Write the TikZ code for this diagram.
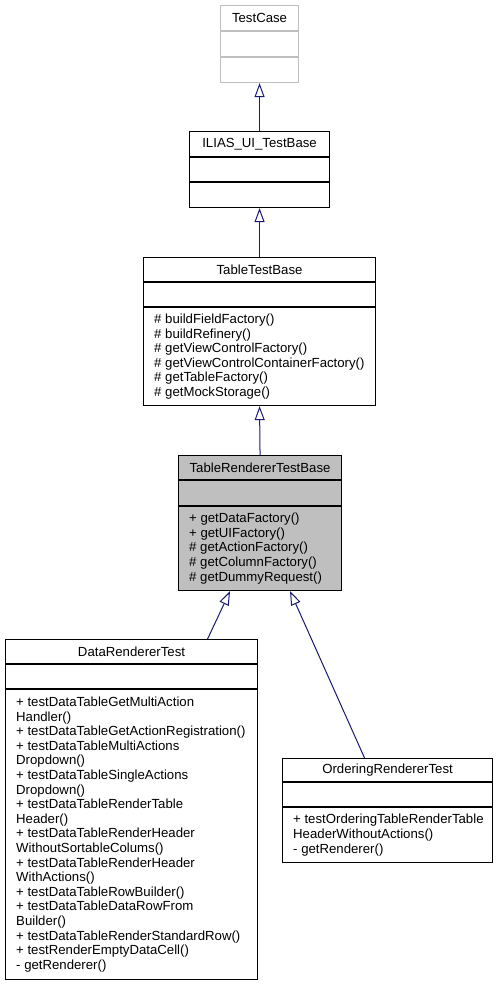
\documentclass[tikz,border=0pt]{standalone}
\usepackage{fontspec}
\setmainfont{Liberation Sans}
\usepackage{xcolor}
\usetikzlibrary{arrows.meta, positioning, calc}
\definecolor{EdgeBlue}{HTML}{191970}
\definecolor{GreyBox}{HTML}{BFBFBF}

\begin{document}
\begin{tikzpicture}[x=1pt, y=-1pt]
        \tikzset{
            classbox/.style={rectangle, draw=black, line width=1.1pt, fill=white, anchor=north west, inner sep=0pt},
            classname/.style={font=\fontsize{13.2}{14.6}\selectfont, inner sep=0pt},
            classline/.style={draw=black, line width=1.1pt},
            members/.style={font=\fontsize{13.2}{14.6}\selectfont, align=left, anchor=west, inner sep=0pt},
            inherit/.style={draw=EdgeBlue, line width=1pt, -{Triangle[open, length=14pt, width=10pt]}}
        }
        \useasboundingbox (0,0) rectangle (498,985);

        % TestCase
        \node[classbox, draw=GreyBox, minimum width=78pt, minimum height=77pt] (tc) at (220,5) {};
        \node[classname] (tcname) at ($(tc.north)+(0,13)$) {TestCase};
        \draw[classline, draw=GreyBox] ($(tc.north west)+(0,26)$) -- ($(tc.north east)+(0,26)$);
        \draw[classline, draw=GreyBox] ($(tc.north west)+(0,52)$) -- ($(tc.north east)+(0,52)$);

        % ILIAS_UI_TestBase
        \node[classbox, minimum width=140pt, minimum height=76pt] (iut) at (189,131) {};
        \node[classname] (iutname) at ($(iut.north)+(0,13)$) {ILIAS\_UI\_TestBase};
        \draw[classline] ($(iut.north west)+(0,26)$) -- ($(iut.north east)+(0,26)$);
        \draw[classline] ($(iut.north west)+(0,51)$) -- ($(iut.north east)+(0,51)$);

        % TableTestBase
        \node[classbox, minimum width=232pt, minimum height=148pt] (ttb) at (143,257) {};
        \node[classname] (ttbname) at ($(ttb.north)+(0,12.5)$) {TableTestBase};
        \draw[classline] ($(ttb.north west)+(0,25)$) -- ($(ttb.north east)+(0,25)$);
        \draw[classline] ($(ttb.north west)+(0,50)$) -- ($(ttb.north east)+(0,50)$);
        \node[members] (ttbops) at ($(ttb.north west)+(11,99.5)$) {\# buildFieldFactory()\\\# buildRefinery()\\\# getViewControlFactory()\\\# getViewControlContainerFactory()\\\# getTableFactory()\\\# getMockStorage()};

        % TableRendererTestBase
        \node[classbox, fill=GreyBox, minimum width=163pt, minimum height=135pt] (trtb) at (178,455) {};
        \node[classname] (trtbname) at ($(trtb.north)+(0,12.5)$) {TableRendererTestBase};
        \draw[classline] ($(trtb.north west)+(0,25)$) -- ($(trtb.north east)+(0,25)$);
        \draw[classline] ($(trtb.north west)+(0,51)$) -- ($(trtb.north east)+(0,51)$);
        \node[members] (trtbops) at ($(trtb.north west)+(11,93.5)$) {+ getDataFactory()\\+ getUIFactory()\\\# getActionFactory()\\\# getColumnFactory()\\\# getDummyRequest()};

        % DataRendererTest
        \node[classbox, minimum width=252pt, minimum height=340pt] (drt) at (5,639) {};
        \node[classname] (drtname) at ($(drt.north)+(0,12.5)$) {DataRendererTest};
        \draw[classline] ($(drt.north west)+(0,25)$) -- ($(drt.north east)+(0,25)$);
        \draw[classline] ($(drt.north west)+(0,50)$) -- ($(drt.north east)+(0,50)$);
        \node[members] (drtops) at ($(drt.north west)+(11,195.5)$) {+ testDataTableGetMultiAction\\Handler()\\+ testDataTableGetActionRegistration()\\+ testDataTableMultiActions\\Dropdown()\\+ testDataTableSingleActions\\Dropdown()\\+ testDataTableRenderTable\\Header()\\+ testDataTableRenderHeader\\WithoutSortableColums()\\+ testDataTableRenderHeader\\WithActions()\\+ testDataTableRowBuilder()\\+ testDataTableDataRowFrom\\Builder()\\+ testDataTableRenderStandardRow()\\+ testRenderEmptyDataCell()\\- getRenderer()};

        % OrderingRendererTest
        \node[classbox, minimum width=210pt, minimum height=104pt] (ort) at (282,758) {};
        \node[classname] (ortname) at ($(ort.north)+(0,12)$) {OrderingRendererTest};
        \draw[classline] ($(ort.north west)+(0,24)$) -- ($(ort.north east)+(0,24)$);
        \draw[classline] ($(ort.north west)+(0,49)$) -- ($(ort.north east)+(0,49)$);
        \node[members] (ortops) at ($(ort.north west)+(11,77)$) {+ testOrderingTableRenderTable\\HeaderWithoutActions()\\- getRenderer()};

        \draw[inherit] (iut.north) -- (tc.south);
        \draw[inherit] (ttb.north) -- (iut.south);
        \draw[inherit] (trtb.north) -- (ttb.south);
        \draw[inherit] ([xshift=76pt]drt.north) -- ([xshift=-30pt]trtb.south);
        \draw[inherit] ([xshift=-23pt]ort.north) -- ([xshift=30pt]trtb.south);

    \end{tikzpicture}
\end{document}
